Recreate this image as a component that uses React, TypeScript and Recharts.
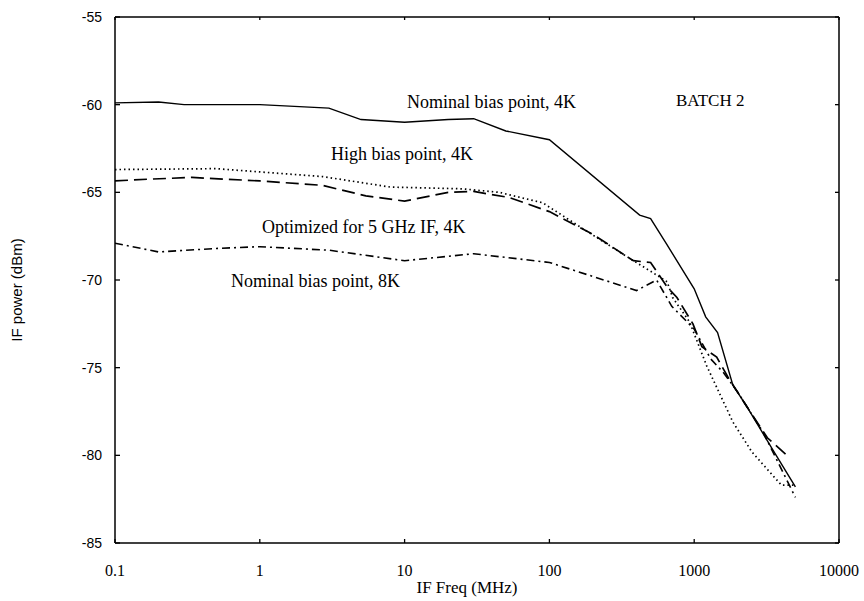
import { LineChart, Line, XAxis, YAxis } from "recharts";

// IF frequency (MHz) / IF power (dBm)
const nom4kFreq = [0.1, 0.2, 0.3, 1, 3, 5, 10, 20, 30, 50, 100, 420, 500, 650, 1000, 1200, 1450, 1850, 2300, 3500, 5000];
const nom4kPower = [-59.9, -59.85, -60.0, -60.0, -60.2, -60.85, -61.0, -60.85, -60.8, -61.5, -62.0, -66.3, -66.5, -68.0, -70.5, -72.1, -73.0, -76.0, -77.2, -79.7, -81.8];

const high4kFreq = [0.1, 0.5, 2.7, 8, 25, 45, 90, 180, 380, 500, 650, 710, 930, 1220, 1850, 2500, 4000, 5000];
const high4kPower = [-63.7, -63.65, -64.1, -64.7, -64.8, -65.0, -65.6, -67.2, -68.9, -69.5, -70.1, -71.0, -72.4, -74.9, -78.1, -79.8, -81.7, -81.7];

const opt5gFreq = [0.1, 0.17, 0.34, 1, 2.7, 5.4, 10, 20, 30, 53, 100, 200, 380, 500, 650, 760, 980, 1130, 1430, 1700, 2300, 3200, 4500];
const opt5gPower = [-64.35, -64.25, -64.15, -64.35, -64.6, -65.2, -65.5, -65.0, -64.95, -65.3, -66.1, -67.4, -68.9, -69.0, -70.4, -71.0, -72.5, -73.8, -74.4, -75.5, -77.2, -79.0, -80.1];

const nom8kFreq = [0.1, 0.2, 0.5, 1, 3, 10, 30, 100, 400, 550, 700, 1000, 1300, 1600, 2000, 3000, 5000];
const nom8kPower = [-67.9, -68.4, -68.2, -68.1, -68.3, -68.9, -68.5, -69.0, -70.6, -70.0, -71.5, -72.8, -74.5, -75.3, -76.4, -78.7, -82.4];

const xTicks = [0.1, 1, 10, 100, 1000, 10000];
const yTicks = [-85, -80, -75, -70, -65, -60, -55];

const toRows = (f: number[], p: number[]) => f.map((x, i) => ({ f: x, p: p[i] }));

const serif = "'Liberation Serif', 'Times New Roman', serif";
const sans = "'Liberation Sans', Arial, sans-serif";
const ink = "#000";

// ticks point into the plot, as in the scan
const LeftTick = (props: any) => {
  const { x, y, payload } = props;
  return (
    <g>
      <line x1={x + 13} x2={x + 18} y1={y} y2={y} stroke={ink} strokeWidth={1.3} />
      <text x={x} y={y} dy="0.355em" textAnchor="end" fontFamily={sans} fontSize={14} fill={ink}>
        {payload.value}
      </text>
    </g>
  );
};

const BottomTick = (props: any) => {
  const { x, y, payload } = props;
  return (
    <g>
      <line x1={x} x2={x} y1={y - 22} y2={y - 26} stroke={ink} strokeWidth={1.3} />
      <text x={x} y={y} dy="0.71em" textAnchor="middle" fontFamily={serif} fontSize={16} fill={ink}>
        {String(payload.value)}
      </text>
    </g>
  );
};

const RightTick = (props: any) => {
  const { x, y } = props;
  return <line x1={x - 4} x2={x} y1={y} y2={y} stroke={ink} strokeWidth={1.3} />;
};

const TopTick = (props: any) => {
  const { x, y } = props;
  return <line x1={x} x2={x} y1={y} y2={y + 3} stroke={ink} strokeWidth={1.3} />;
};

export default function App() {
  return (
    <div style={{ position: "absolute", left: 0, top: 0, background: "#fff" }}>
      <LineChart width={864} height={601} margin={{ top: 16, right: 24, left: 55, bottom: 28 }}>
        <XAxis
          type="number"
          dataKey="f"
          scale="log"
          domain={[0.1, 10000]}
          ticks={xTicks}
          allowDataOverflow
          height={30}
          stroke={ink}
          strokeWidth={1.5}
          tickLine={false}
          tickSize={0}
          tickMargin={22}
          tick={<BottomTick />}
        />
        <XAxis
          xAxisId="top"
          orientation="top"
          type="number"
          dataKey="f"
          scale="log"
          domain={[0.1, 10000]}
          ticks={xTicks}
          allowDataOverflow
          height={1}
          stroke={ink}
          strokeWidth={1.5}
          tickLine={false}
          tickSize={0}
          tickMargin={0}
          tick={<TopTick />}
        />
        <YAxis
          type="number"
          domain={[-85, -55]}
          ticks={yTicks}
          allowDataOverflow
          width={60}
          stroke={ink}
          strokeWidth={1.5}
          tickLine={false}
          tickSize={0}
          tickMargin={13}
          tick={<LeftTick />}
        />
        <YAxis
          yAxisId="right"
          orientation="right"
          type="number"
          domain={[-85, -55]}
          ticks={yTicks}
          allowDataOverflow
          width={1}
          stroke={ink}
          strokeWidth={1.5}
          tickLine={false}
          tickSize={0}
          tickMargin={0}
          tick={<RightTick />}
        />
        <Line data={toRows(nom4kFreq, nom4kPower)} dataKey="p" stroke={ink} strokeWidth={1.4} dot={false} isAnimationActive={false} />
        <Line data={toRows(high4kFreq, high4kPower)} dataKey="p" stroke={ink} strokeWidth={1.7} strokeDasharray="1.5 3" dot={false} isAnimationActive={false} />
        <Line data={toRows(opt5gFreq, opt5gPower)} dataKey="p" stroke={ink} strokeWidth={1.7} strokeDasharray="13 6" dot={false} isAnimationActive={false} />
        <Line data={toRows(nom8kFreq, nom8kPower)} dataKey="p" stroke={ink} strokeWidth={1.6} strokeDasharray="8 4 2 4" dot={false} isAnimationActive={false} />

        <text x={407} y={108} fontFamily={serif} fontSize={18} fill={ink}>Nominal bias point, 4K</text>
        <text x={331} y={160} fontFamily={serif} fontSize={18} fill={ink}>High bias point, 4K</text>
        <text x={262} y={233} fontFamily={serif} fontSize={18} fill={ink}>Optimized for 5 GHz IF, 4K</text>
        <text x={231} y={287} fontFamily={serif} fontSize={18} fill={ink}>Nominal bias point, 8K</text>
        <text x={676} y={106} fontFamily={serif} fontSize={17} fill={ink}>BATCH 2</text>
        <text x={467} y={593} textAnchor="middle" fontFamily={serif} fontSize={17} fill={ink}>IF Freq (MHz)</text>
        <text x={22} y={290} textAnchor="middle" transform="rotate(-90 22 290)" fontFamily={sans} fontSize={15} fill={ink}>IF power (dBm)</text>
      </LineChart>
    </div>
  );
}
